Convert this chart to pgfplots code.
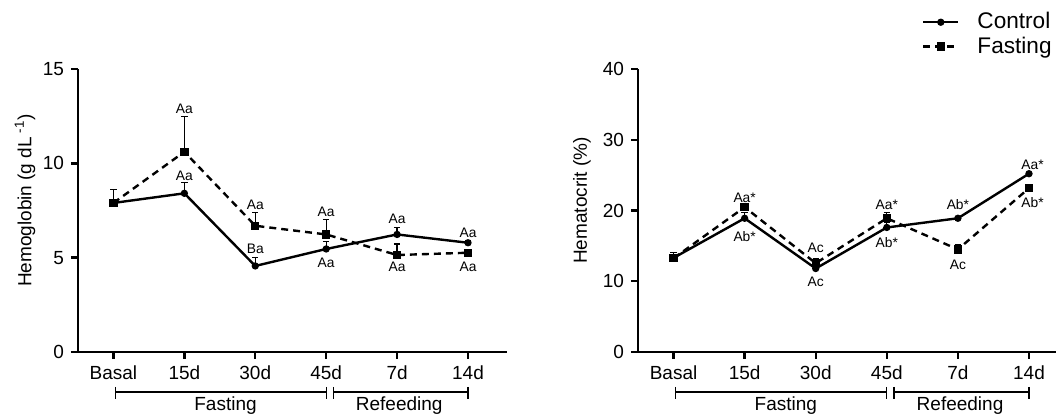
\documentclass[border=0pt]{standalone}
\usepackage{pgfplots}
\pgfplotsset{compat=1.18}
\usepackage{fontspec}
\setmainfont{Liberation Sans}
\newcommand{\tfont}{\fontsize{9.5}{11}\selectfont}
\newcommand{\afont}{\fontsize{6.9}{8}\selectfont}
\pgfplotsset{
  myax/.style={
    scale only axis, anchor=south west,
    axis lines*=left,
    axis line style={line width=1.2pt},
    tick style={line width=1.2pt, black},
    major tick length=3.5pt, tick align=outside,
    xtick={0,1,2,3,4,5},
    xticklabels={Basal,15d,30d,45d,7d,14d},
    xmin=-0.5, ymin=0,
    ticklabel style={font=\tfont},
    label style={font=\tfont},
    /pgf/number format/assume math mode=true,
    clip=false,
    height=141.5pt,
  },
  ctrl/.style={black, solid, line width=1.2pt, mark=*, mark size=1.2pt, mark options={fill=black, draw=black},
    error bars/.cd, y dir=plus, y explicit,
    error bar style={line width=0.6pt, solid, black},
    error mark options={rotate=90, mark size=1.6pt, line width=0.6pt, black}},
  fast/.style={black, line width=1.2pt, dash pattern=on 3.5pt off 2.5pt, mark=square*, mark size=1.5pt, mark options={solid, fill=black, draw=black},
    error bars/.cd, y dir=plus, y explicit,
    error bar style={line width=0.6pt, solid, black},
    error mark options={rotate=90, mark size=1.6pt, line width=0.6pt, solid, black}},
}
\newcommand{\brackets}{%
  \draw[line width=0.6pt] ([yshift=-20pt]axis cs:0.03,0) -- ([yshift=-20pt]axis cs:3,0);
  \draw[line width=0.6pt] ([yshift=-17.5pt]axis cs:0.03,0) -- ([yshift=-23.5pt]axis cs:0.03,0);
  \draw[line width=0.6pt] ([yshift=-17.5pt]axis cs:3,0) -- ([yshift=-23.5pt]axis cs:3,0);
  \draw[line width=0.6pt] ([yshift=-20pt]axis cs:3.1,0) -- ([yshift=-20pt]axis cs:5,0);
  \draw[line width=0.6pt] ([yshift=-17.5pt]axis cs:3.1,0) -- ([yshift=-23.5pt]axis cs:3.1,0);
  \draw[line width=0.6pt] ([yshift=-17.5pt]axis cs:5,0) -- ([yshift=-23.5pt]axis cs:5,0);
  \node[anchor=base, font=\tfont, inner sep=0pt] at ([yshift=-29.5pt]axis cs:1.58,0) {Fasting};
  \node[anchor=base, font=\tfont, inner sep=0pt] at ([yshift=-29.5pt]axis cs:4.03,0) {Refeeding};
}
\begin{document}
\begin{tikzpicture}
\useasboundingbox (0,0) rectangle (528pt,207.5pt);
% Left: Hemoglobin
\begin{axis}[myax, at={(39pt,31.5pt)}, width=214.5pt,
  xmax=5.55, ymax=15, ytick={0,5,10,15},
  ylabel={Hemoglobin (g dL\textsuperscript{ -1})},
  ylabel style={at={(axis description cs:-0.1235,0.535)}, anchor=center, rotate=0},
]
\addplot[fast] table[x=x, y=y, y error=e] {
x y e
0 7.90 0.72
1 10.61 1.86
2 6.69 0.69
3 6.23 0.80
4 5.14 0.58
5 5.26 0.18
};
\addplot[ctrl] table[x=x, y=y, y error=e] {
x y e
0 7.90 0.0
1 8.41 0.56
2 4.56 0.46
3 5.46 0.39
4 6.23 0.36
5 5.79 0.12
};
\begin{scope}[every node/.style={font=\afont, inner sep=0pt}]
\node at (axis cs:1,12.88) {Aa};
\node at (axis cs:1,9.33) {Aa};
\node at (axis cs:2,7.79) {Aa};
\node at (axis cs:2,5.46) {Ba};
\node at (axis cs:3,7.42) {Aa};
\node at (axis cs:3,4.72) {Aa};
\node at (axis cs:4,7.05) {Aa};
\node at (axis cs:4,4.50) {Aa};
\node at (axis cs:5,6.30) {Aa};
\node at (axis cs:5,4.50) {Aa};
\end{scope}
\brackets
\end{axis}
% Right: Hematocrit
\begin{axis}[myax, at={(319pt,31.5pt)}, width=209pt,
  xmax=5.38, ymax=40, ytick={0,10,20,30,40},
  ylabel={Hematocrit (\%)},
  ylabel style={at={(axis description cs:-0.134,0.535)}, anchor=center, rotate=0},
  legend style={draw=none, fill=none, at={(axis description cs:1.0,1.215)}, anchor=north east,
    font=\fontsize{11.3}{12}\selectfont, row sep=-1.5pt, inner sep=0pt,
    /tikz/every odd column/.append style={column sep=7pt}},
  legend cell align=left,
  legend image code/.code={\draw[mark repeat=2, mark phase=2, #1] plot coordinates {(0pt,0pt) (8.75pt,0pt) (17.5pt,0pt)};},
  reverse legend,
]
\addplot[fast] table[x=x, y=y, y error=e] {
x y e
0 13.25 0.85
1 20.47 0.40
2 12.55 0.70
3 18.90 0.80
4 14.50 0.70
5 23.15 0.30
};
\addlegendentry{Fasting}
\addplot[ctrl] table[x=x, y=y, y error=e] {
x y e
0 13.30 0.30
1 18.90 0.80
2 11.80 0.60
3 17.60 0.70
4 18.90 0.30
5 25.20 0.20
};
\addlegendentry{Control}
\begin{scope}[every node/.style={font=\afont, inner sep=0pt}]
\node at (axis cs:1,21.8) {Aa*};
\node at (axis cs:1,16.3) {Ab*};
\node at (axis cs:2,14.7) {Ac};
\node at (axis cs:2,9.9) {Ac};
\node at (axis cs:3,20.8) {Aa*};
\node at (axis cs:3,15.4) {Ab*};
\node at (axis cs:4,20.8) {Ab*};
\node at (axis cs:4,12.3) {Ac};
\node at (axis cs:5.05,26.4) {Aa*};
\node at (axis cs:5.05,21.1) {Ab*};
\end{scope}
\brackets
\end{axis}
\end{tikzpicture}
\end{document}
